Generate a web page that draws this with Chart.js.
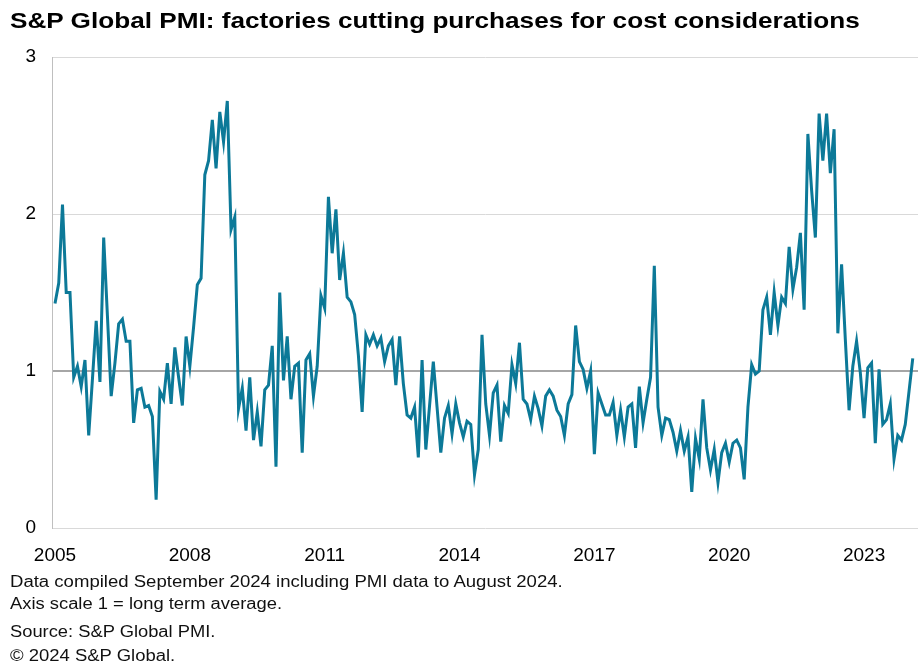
<!DOCTYPE html>
<html>
<head>
<meta charset="utf-8">
<script src="https://cdn.jsdelivr.net/npm/chart.js@4.4.1/dist/chart.umd.min.js"></script>
<style>
  body { margin: 0; background: #fff; font-family: 'Liberation Sans', Arial, sans-serif; color: #000; }
  #wrap { position: relative; width: 923px; height: 671px; overflow: hidden; }
  #chart { position: absolute; left: 0; top: 0; }
  .txt { position: absolute; left: 10px; white-space: nowrap; transform-origin: 0 0; }
  #title { top: 8px; font-size: 22px; font-weight: bold; }
  .note { font-size: 16px; color: #111; }
</style>
</head>
<body>
<div id="wrap">
  <canvas id="chart" width="923" height="671"></canvas>
  <div id="title" class="txt" data-w="850">S&amp;P Global PMI: factories cutting purchases for cost considerations</div>
  <div class="txt note" style="top:573px" data-w="553">Data compiled September 2024 including PMI data to August 2024.</div>
  <div class="txt note" style="top:595px" data-w="272">Axis scale 1 = long term average.</div>
  <div class="txt note" style="top:623px" data-w="205">Source: S&amp;P Global PMI.</div>
  <div class="txt note" style="top:647px" data-w="165">© 2024 S&amp;P Global.</div>
</div>
<script>
// monthly index, Aug 2005 .. Aug 2024 (1 = long term average)
const startYear = 2005;
const startMonth = 7; // August, 0-based
const purchases = [
  1.43, 1.56, 2.06, 1.50, 1.50, 0.96, 1.03, 0.90, 1.07, 0.59,
  0.95, 1.32, 0.93, 1.85, 1.35, 0.84, 1.05, 1.30, 1.33, 1.19,
  1.19, 0.67, 0.88, 0.89, 0.77, 0.78, 0.71, 0.18, 0.87, 0.82,
  1.05, 0.79, 1.15, 0.96, 0.78, 1.22, 1.03, 1.28, 1.55, 1.59,
  2.25, 2.34, 2.60, 2.29, 2.65, 2.46, 2.72, 1.90, 1.98, 0.76,
  0.89, 0.62, 0.96, 0.56, 0.74, 0.52, 0.88, 0.91, 1.16, 0.39,
  1.50, 0.94, 1.22, 0.82, 1.03, 1.05, 0.48, 1.07, 1.11, 0.84,
  1.03, 1.48, 1.40, 2.11, 1.75, 2.03, 1.58, 1.75, 1.47, 1.44,
  1.36, 1.10, 0.74, 1.23, 1.17, 1.23, 1.16, 1.21, 1.06, 1.16,
  1.20, 0.91, 1.22, 0.92, 0.72, 0.70, 0.77, 0.45, 1.07, 0.50,
  0.78, 1.06, 0.77, 0.48, 0.70, 0.78, 0.60, 0.79, 0.67, 0.58,
  0.68, 0.66, 0.34, 0.50, 1.23, 0.79, 0.59, 0.86, 0.91, 0.55,
  0.78, 0.73, 1.04, 0.92, 1.18, 0.82, 0.79, 0.69, 0.84, 0.76,
  0.65, 0.84, 0.88, 0.84, 0.75, 0.71, 0.59, 0.79, 0.85, 1.29,
  1.06, 1.01, 0.89, 1.00, 0.47, 0.86, 0.79, 0.72, 0.72, 0.80,
  0.59, 0.75, 0.58, 0.77, 0.79, 0.51, 0.90, 0.67, 0.82, 0.96,
  1.67, 0.77, 0.59, 0.70, 0.69, 0.61, 0.49, 0.62, 0.49, 0.58,
  0.23, 0.57, 0.44, 0.82, 0.51, 0.37, 0.50, 0.29, 0.48, 0.54,
  0.42, 0.54, 0.56, 0.51, 0.31, 0.77, 1.04, 0.98, 1.00, 1.39,
  1.47, 1.23, 1.50, 1.29, 1.47, 1.43, 1.79, 1.52, 1.66, 1.88,
  1.39, 2.51, 2.15, 1.85, 2.64, 2.34, 2.64, 2.26, 2.54, 1.24,
  1.68, 1.20, 0.75, 1.03, 1.19, 0.99, 0.70, 1.02, 1.05, 0.54,
  1.01, 0.66, 0.69, 0.79, 0.44, 0.59, 0.56, 0.66, 0.87, 1.08
];
const yearLabels = ['2005', '2008', '2011', '2014', '2017', '2020', '2023'];
const tickEvery = 36;

const months = purchases.map((v, i) => {
  const m = startMonth + i;
  return (startYear + Math.floor(m / 12)) + '-' + String(m % 12 + 1).padStart(2, '0');
});
const points = purchases.map((v, i) => ({ x: i, y: v }));

const tickFont = { family: "'Liberation Sans', Arial, sans-serif", size: 19 };

new Chart(document.getElementById('chart').getContext('2d'), {
  type: 'line',
  data: {
    labels: months,
    datasets: [{
      label: 'Cutting purchases for cost considerations',
      data: points,
      borderColor: '#0c7998',
      borderWidth: 3,
      pointRadius: 0,
      tension: 0,
      fill: false
    }]
  },
  options: {
    responsive: false,
    animation: false,
    layout: { padding: { left: 0, right: 5, top: 57, bottom: 0 } },
    plugins: { legend: { display: false }, tooltip: { enabled: false } },
    scales: {
      x: {
        type: 'linear',
        min: -0.8,
        max: purchases.length + 0.4,
        grid: { display: false },
        border: { display: false },
        afterBuildTicks: (s) => {
          s.ticks = yearLabels.map((y, k) => ({ value: k * tickEvery }));
        },
        ticks: {
          maxRotation: 0,
          padding: 8,
          color: '#000',
          font: tickFont,
          callback: (v) => yearLabels[Math.round(v / tickEvery)]
        },
        afterFit: (s) => { s.height = 143; }
      },
      y: {
        min: 0,
        max: 3,
        ticks: { stepSize: 1, padding: 16, color: '#000', font: tickFont },
        grid: {
          drawTicks: false,
          color: (c) => c.tick.value === 1 ? '#a6a6a6' : '#d9d9d9',
          lineWidth: (c) => c.tick.value === 1 ? 2 : 1
        },
        border: { color: '#bfbfbf' },
        afterFit: (s) => { s.width = 52; }
      }
    }
  }
});

// stretch the text lines to the widths they have in the reference
document.querySelectorAll('.txt').forEach((el) => {
  const w = +el.dataset.w;
  el.style.transform = 'scaleX(' + (w / el.offsetWidth) + ')';
});
</script>
</body>
</html>
